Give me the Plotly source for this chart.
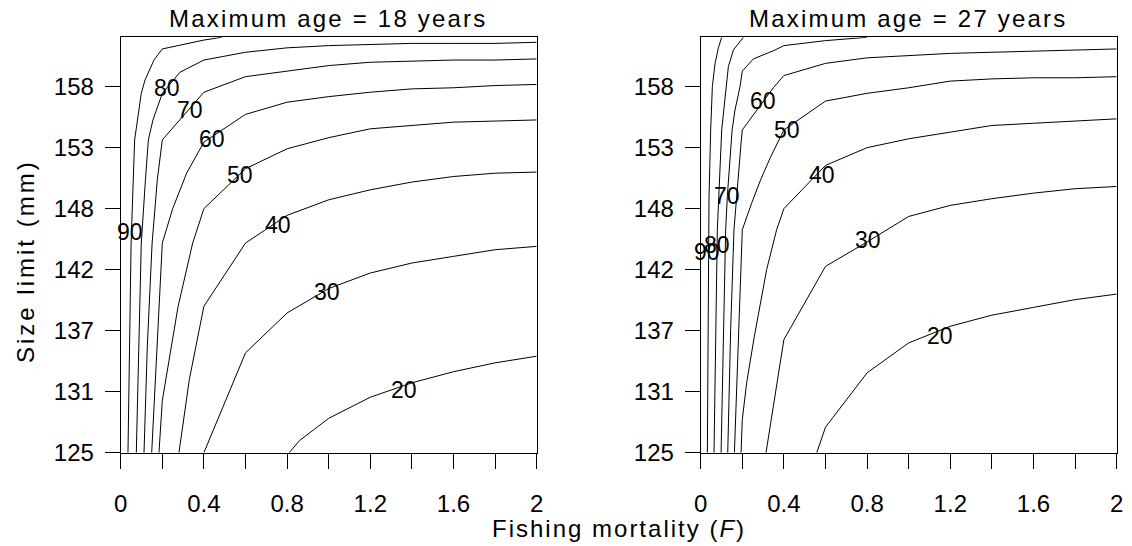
import plotly.graph_objects as go

# ---------------------------------------------------------------------------
# Data: isolines of the response surface (percent) over fishing mortality F
# and size limit (mm). Each isoline is listed as F values and size values.
# ---------------------------------------------------------------------------
LEVELS = [20, 30, 40, 50, 60, 70, 80, 90]

# Maximum age = 18 years
A18_F20 = [0.81, 0.86, 1.0, 1.2, 1.4, 1.6, 1.8, 2.0]
A18_S20 = [125.0, 126.1, 128.1, 130.0, 131.3, 132.3, 133.1, 133.7]
A18_F30 = [0.4, 0.6, 0.8, 1.0, 1.2, 1.4, 1.6, 1.8, 2.0]
A18_S30 = [125.0, 134.0, 137.6, 139.8, 141.2, 142.1, 142.7, 143.3, 143.6]
A18_F40 = [0.28, 0.33, 0.4, 0.6, 0.8, 1.0, 1.2, 1.4, 1.6, 1.8, 2.0]
A18_S40 = [125.0, 131.6, 138.2, 143.9, 146.4, 147.8, 148.7, 149.4, 149.9, 150.2, 150.3]
A18_F50 = [0.184, 0.2, 0.276, 0.346, 0.4, 0.6, 0.8, 1.0, 1.2, 1.4, 1.6, 1.8, 2.0]
A18_S50 = [125.0, 129.7, 138.2, 143.9, 147.0, 150.6, 152.4, 153.4, 154.2, 154.5, 154.8, 154.9, 155.0]
A18_F60 = [0.149, 0.175, 0.2, 0.25, 0.317, 0.4, 0.6, 0.8, 1.0, 1.2, 1.4, 1.6, 1.8, 2.0]
A18_S60 = [125.0, 134.6, 143.9, 147.0, 150.2, 153.0, 155.5, 156.6, 157.1, 157.5, 157.8, 157.9, 158.1, 158.2]
A18_F70 = [0.112, 0.128, 0.151, 0.176, 0.2, 0.4, 0.6, 0.8, 1.0, 1.2, 1.4, 1.6, 1.8, 2.0]
A18_S70 = [125.0, 134.6, 143.9, 149.6, 153.2, 157.5, 158.9, 159.4, 159.9, 160.2, 160.3, 160.4, 160.4, 160.5]
A18_F80 = [0.075, 0.087, 0.099, 0.119, 0.133, 0.155, 0.2, 0.285, 0.4, 0.6, 0.8, 1.0, 1.2, 1.4, 1.6, 1.8, 2.0]
A18_S80 = [125.0, 134.6, 143.9, 149.6, 153.2, 155.0, 157.4, 159.3, 160.4, 161.1, 161.5, 161.7, 161.8, 161.9, 161.9, 161.9, 162.0]
A18_F90 = [0.035, 0.043, 0.05, 0.067, 0.099, 0.117, 0.16, 0.2, 0.4, 0.486]
A18_S90 = [125.0, 134.6, 143.9, 153.2, 157.4, 158.6, 160.4, 161.4, 162.2, 162.45]

# Maximum age = 27 years
A27_F20 = [0.558, 0.6, 0.8, 1.0, 1.2, 1.4, 1.6, 1.8, 2.0]
A27_S20 = [125.0, 127.3, 132.2, 134.9, 136.4, 137.4, 138.1, 138.8, 139.3]
A27_F30 = [0.314, 0.356, 0.4, 0.6, 0.8, 1.0, 1.2, 1.4, 1.6, 1.8, 2.0]
A27_S30 = [125.0, 130.1, 135.2, 141.8, 144.0, 146.3, 147.3, 147.9, 148.4, 148.8, 149.0]
A27_F40 = [0.194, 0.2, 0.221, 0.258, 0.317, 0.365, 0.4, 0.6, 0.8, 1.0, 1.2, 1.4, 1.6, 1.8, 2.0]
A27_S40 = [125.0, 128.0, 131.3, 135.5, 141.5, 145.1, 147.0, 150.9, 152.5, 153.3, 153.9, 154.5, 154.7, 154.9, 155.1]
A27_F50 = [0.162, 0.181, 0.2, 0.245, 0.288, 0.337, 0.4, 0.6, 0.8, 1.0, 1.2, 1.4, 1.6, 1.8, 2.0]
A27_S50 = [125.0, 136.1, 145.1, 147.5, 149.6, 151.7, 154.1, 156.7, 157.4, 157.9, 158.5, 158.7, 158.8, 158.8, 158.9]
A27_F60 = [0.13, 0.144, 0.16, 0.178, 0.194, 0.2, 0.349, 0.4, 0.6, 0.8, 1.0, 1.2, 1.4, 1.6, 1.8, 2.0]
A27_S60 = [125.0, 136.1, 145.1, 149.6, 152.9, 154.1, 157.9, 159.0, 160.1, 160.6, 160.8, 161.0, 161.1, 161.2, 161.3, 161.4]
A27_F70 = [0.098, 0.109, 0.12, 0.128, 0.151, 0.165, 0.189, 0.2, 0.253, 0.357, 0.4, 0.6, 0.8]
A27_S70 = [125.0, 136.1, 145.1, 148.1, 154.1, 155.9, 158.0, 159.4, 160.5, 161.3, 161.7, 162.15, 162.45]
A27_F80 = [0.064, 0.072, 0.08, 0.101, 0.115, 0.133, 0.157, 0.205]
A27_S80 = [125.0, 136.1, 145.1, 154.1, 156.8, 159.8, 161.3, 162.45]
A27_F90 = [0.032, 0.035, 0.04, 0.048, 0.056, 0.069, 0.085, 0.101]
A27_S90 = [125.0, 139.1, 148.1, 154.1, 158.0, 160.1, 161.5, 162.45]

# Axis ticks
X_RANGE = [0, 2]
Y_RANGE = [125, 162.45]
Y_TICK_VALS = [125, 130.5, 136, 141.5, 147, 152.5, 158]
Y_TICK_TEXT = ["125", "131", "137", "142", "148", "153", "158"]

PANEL_TITLES = ["Maximum age = 18 years", "Maximum age = 27 years"]

# ---------------------------------------------------------------------------
# Layout constants (pixels of the 1132 x 546 page)
# ---------------------------------------------------------------------------
W, H = 1132, 546
FONT = "Liberation Sans, Arial, Helvetica, sans-serif"


def fx(px):
    return px / W


def fy(py):
    return 1 - py / H


PLOT_TOP, PLOT_BOTTOM = 37.3, 452.7
LEFT_X = (120.7, 536.7)
RIGHT_X = (700.7, 1116.7)

# Where each isoline is labelled, per panel, in data units (F, size)
A18_LABEL_POS = {20: (1.36, 130.65), 30: (0.994, 139.5), 40: (0.758, 145.5),
                 50: (0.574, 150.0), 60: (0.4375, 153.3), 70: (0.333, 155.9),
                 80: (0.221, 157.85), 90: (0.045, 144.9)}
A27_LABEL_POS = {20: (1.151, 135.5), 30: (0.806, 144.2), 40: (0.582, 150.0),
                 50: (0.413, 154.1), 60: (0.301, 156.7), 70: (0.125, 148.1),
                 80: (0.077, 143.7), 90: (0.029, 143.1)}

panels = [
    ("x", "y", [(20, A18_F20, A18_S20), (30, A18_F30, A18_S30), (40, A18_F40, A18_S40),
                (50, A18_F50, A18_S50), (60, A18_F60, A18_S60), (70, A18_F70, A18_S70),
                (80, A18_F80, A18_S80), (90, A18_F90, A18_S90)], A18_LABEL_POS),
    ("x2", "y2", [(20, A27_F20, A27_S20), (30, A27_F30, A27_S30), (40, A27_F40, A27_S40),
                  (50, A27_F50, A27_S50), (60, A27_F60, A27_S60), (70, A27_F70, A27_S70),
                  (80, A27_F80, A27_S80), (90, A27_F90, A27_S90)], A27_LABEL_POS),
]

fig = go.Figure()
annotations = []

for xa, ya, curves, label_pos in panels:
    for level, f_vals, s_vals in curves:
        fig.add_trace(go.Scatter(
            x=f_vals, y=s_vals, xaxis=xa, yaxis=ya, mode="lines",
            line=dict(color="black", width=1), name=str(level),
            showlegend=False, hoverinfo="skip"))
        lx, ly = label_pos[level]
        annotations.append(dict(
            x=lx, y=ly, xref=xa, yref=ya, text=str(level), showarrow=False,
            xanchor="center", yanchor="middle",
            font=dict(family=FONT, size=23, color="black")))


def spaced(text, px=2):
    return f'<span style="letter-spacing:{px}px">{text}</span>'


# Panel titles
for title, (x0, x1) in zip(PANEL_TITLES, [LEFT_X, RIGHT_X]):
    annotations.append(dict(
        x=fx((x0 + x1) / 2), y=fy(19), xref="paper", yref="paper",
        text=spaced(title, 2.2), showarrow=False, xanchor="center", yanchor="middle",
        font=dict(family=FONT, size=24, color="black")))

# Shared axis titles
annotations.append(dict(
    x=fx((LEFT_X[0] + RIGHT_X[1]) / 2), y=fy(528), xref="paper", yref="paper",
    text=spaced("Fishing mortality (<i>F</i>)", 2), showarrow=False,
    xanchor="center", yanchor="middle", font=dict(family=FONT, size=24, color="black")))
annotations.append(dict(
    x=fx(25), y=fy(261), xref="paper", yref="paper",
    text=spaced("Size limit (mm)", 3), showarrow=False, textangle=-90,
    xanchor="center", yanchor="middle", font=dict(family=FONT, size=24, color="black")))

axis_style = dict(
    showgrid=False, zeroline=False, showline=True, mirror=True,
    linecolor="black", linewidth=1, ticks="outside", ticklen=15,
    tickwidth=1, tickcolor="black", automargin=False,
    tickfont=dict(family=FONT, size=24, color="black"))

x_style = dict(range=X_RANGE, tick0=0, dtick=0.4, ticklabelstandoff=14,
               minor=dict(tick0=0, dtick=0.2, ticks="outside", ticklen=15,
                          tickwidth=1, tickcolor="black", showgrid=False),
               **axis_style)
y_style = dict(range=Y_RANGE, tickmode="array", tickvals=Y_TICK_VALS,
               ticktext=Y_TICK_TEXT, ticklabelstandoff=6, **axis_style)

y_domain = [fy(PLOT_BOTTOM), fy(PLOT_TOP)]

fig.update_layout(
    width=W, height=H,
    margin=dict(l=0, r=0, t=0, b=0, pad=0, autoexpand=False),
    paper_bgcolor="white", plot_bgcolor="white",
    font=dict(family=FONT, color="black"),
    showlegend=False,
    xaxis=dict(domain=[fx(LEFT_X[0]), fx(LEFT_X[1])], anchor="y", **x_style),
    yaxis=dict(domain=y_domain, anchor="x", **y_style),
    xaxis2=dict(domain=[fx(RIGHT_X[0]), fx(RIGHT_X[1])], anchor="y2", **x_style),
    yaxis2=dict(domain=y_domain, anchor="x2", **y_style),
    annotations=annotations,
)

fig.write_html("out.html")
